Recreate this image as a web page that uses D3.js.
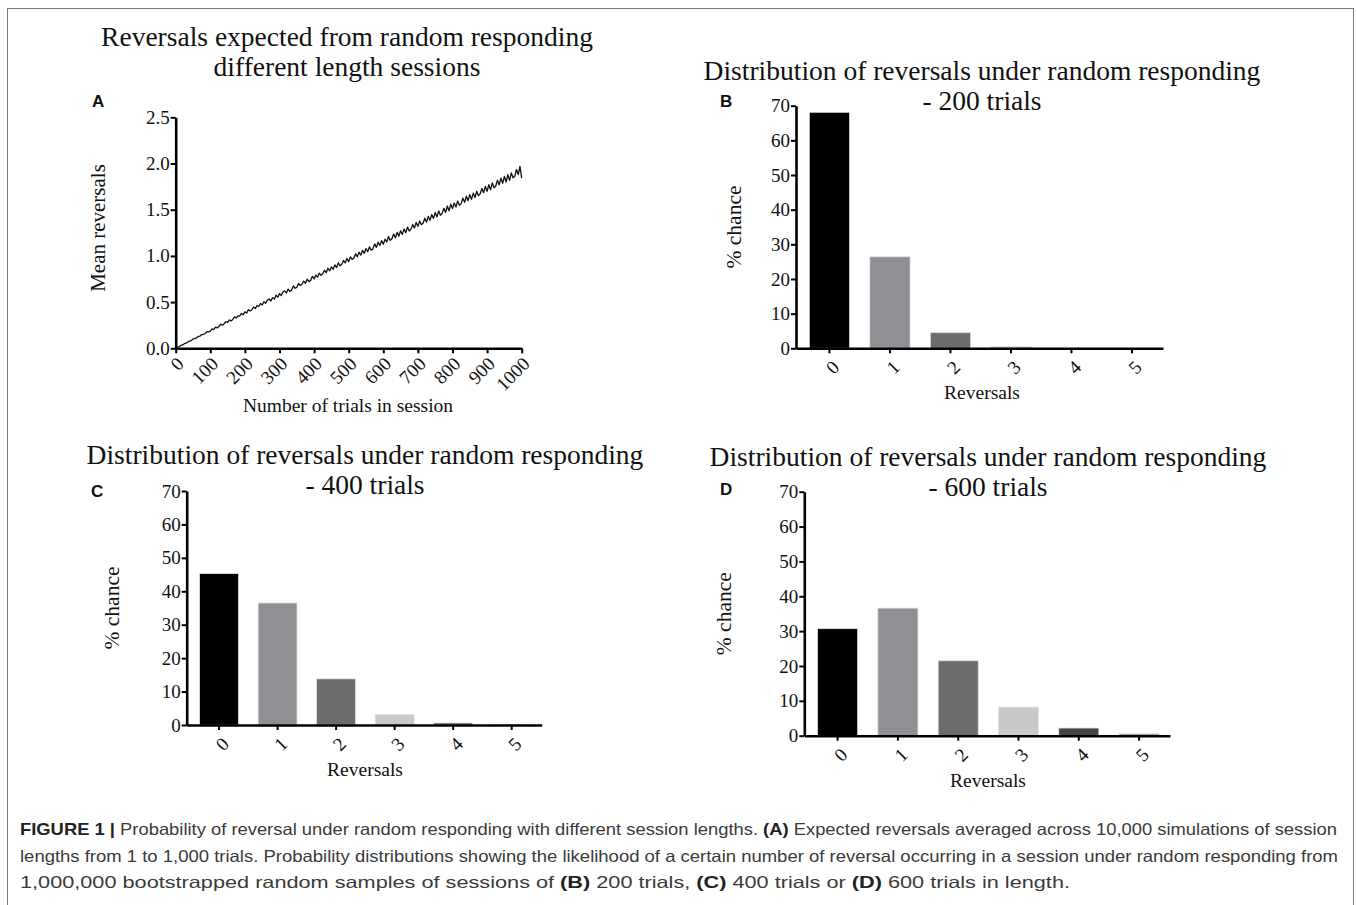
<!DOCTYPE html>
<html>
<head>
<meta charset="utf-8">
<script src="https://cdn.jsdelivr.net/npm/d3@7"></script>
<style>
  body { margin: 0; background: #fff; }
  svg { display: block; }
  .serif { font-family: "Liberation Serif", "DejaVu Serif", serif; fill: #111; }
</style>
</head>
<body>
<script>
// panel A: trials per session and mean reversals
var trials = [
    0, 5, 10, 15, 20, 25, 30, 35, 40, 45,
    50, 55, 60, 65, 70, 75, 80, 85, 90, 95,
    100, 105, 110, 115, 120, 125, 130, 135, 140, 145,
    150, 155, 160, 165, 170, 175, 180, 185, 190, 195,
    200, 205, 210, 215, 220, 225, 230, 235, 240, 245,
    250, 255, 260, 265, 270, 275, 280, 285, 290, 295,
    300, 305, 310, 315, 320, 325, 330, 335, 340, 345,
    350, 355, 360, 365, 370, 375, 380, 385, 390, 395,
    400, 405, 410, 415, 420, 425, 430, 435, 440, 445,
    450, 455, 460, 465, 470, 475, 480, 485, 490, 495,
    500, 505, 510, 515, 520, 525, 530, 535, 540, 545,
    550, 555, 560, 565, 570, 575, 580, 585, 590, 595,
    600, 605, 610, 615, 620, 625, 630, 635, 640, 645,
    650, 655, 660, 665, 670, 675, 680, 685, 690, 695,
    700, 705, 710, 715, 720, 725, 730, 735, 740, 745,
    750, 755, 760, 765, 770, 775, 780, 785, 790, 795,
    800, 805, 810, 815, 820, 825, 830, 835, 840, 845,
    850, 855, 860, 865, 870, 875, 880, 885, 890, 895,
    900, 905, 910, 915, 920, 925, 930, 935, 940, 945,
    950, 955, 960, 965, 970, 975, 980, 985, 990, 995,
    1000
];
var meanReversals = [
    0.000, 0.011, 0.017, 0.031, 0.036, 0.050, 0.055, 0.069, 0.078, 0.083,
    0.101, 0.104, 0.112, 0.129, 0.131, 0.149, 0.150, 0.160, 0.179, 0.178,
    0.186, 0.210, 0.203, 0.229, 0.221, 0.236, 0.262, 0.250, 0.266, 0.289,
    0.279, 0.308, 0.296, 0.312, 0.340, 0.327, 0.352, 0.349, 0.377, 0.362,
    0.395, 0.381, 0.418, 0.404, 0.418, 0.447, 0.430, 0.463, 0.452, 0.485,
    0.468, 0.505, 0.488, 0.521, 0.534, 0.512, 0.549, 0.532, 0.575, 0.553,
    0.592, 0.571, 0.610, 0.622, 0.598, 0.641, 0.615, 0.632, 0.675, 0.650,
    0.660, 0.701, 0.680, 0.693, 0.728, 0.704, 0.748, 0.721, 0.735, 0.780,
    0.751, 0.792, 0.770, 0.814, 0.790, 0.806, 0.845, 0.818, 0.866, 0.838,
    0.880, 0.856, 0.902, 0.875, 0.924, 0.893, 0.910, 0.950, 0.925, 0.972,
    0.938, 0.990, 0.962, 0.978, 1.022, 0.990, 1.040, 1.008, 1.060, 1.028,
    1.080, 1.045, 1.098, 1.062, 1.075, 1.130, 1.092, 1.148, 1.112, 1.165,
    1.126, 1.182, 1.150, 1.210, 1.168, 1.186, 1.236, 1.196, 1.255, 1.214,
    1.272, 1.232, 1.292, 1.250, 1.312, 1.270, 1.290, 1.340, 1.300, 1.362,
    1.320, 1.378, 1.338, 1.356, 1.408, 1.365, 1.428, 1.384, 1.448, 1.406,
    1.470, 1.422, 1.488, 1.440, 1.460, 1.515, 1.470, 1.540, 1.488, 1.560,
    1.512, 1.572, 1.528, 1.594, 1.548, 1.566, 1.625, 1.580, 1.646, 1.598,
    1.664, 1.612, 1.680, 1.632, 1.700, 1.652, 1.672, 1.730, 1.684, 1.752,
    1.700, 1.770, 1.716, 1.790, 1.738, 1.756, 1.820, 1.768, 1.842, 1.786,
    1.860, 1.800, 1.880, 1.818, 1.898, 1.846, 1.862, 1.935, 1.880, 1.968,
    1.842
];
var trialTicks = [0, 100, 200, 300, 400, 500, 600, 700, 800, 900, 1000];
var meanTicks = [0, 0.5, 1.0, 1.5, 2.0, 2.5];

// panels B-D: % chance of each number of reversals
var reversals = ["0", "1", "2", "3", "4", "5"];
var chance200 = [68.1, 26.4, 4.5, 0.5, 0.05, 0.0];
var chance400 = [45.3, 36.5, 13.8, 3.2, 0.6, 0.1];
var chance600 = [30.7, 36.6, 21.5, 8.2, 2.2, 0.6];
var chanceTicks = [0, 10, 20, 30, 40, 50, 60, 70];

var barColors = ["#000000", "#8f8f94", "#6c6c6c", "#c9c9c9", "#454545", "#a3a3a3"];

var width = 1357;
var height = 905;

var svg = d3.select("body").append("svg")
    .attr("width", width)
    .attr("height", height);

// figure frame
svg.append("rect")
    .attr("x", 7.5).attr("y", 8.5)
    .attr("width", 1346).attr("height", 910)
    .style("fill", "none")
    .style("stroke", "#7a7a7a")
    .style("stroke-width", 1);

function styleAxis(g) {
    g.select(".domain").style("stroke", "#000").style("stroke-width", 2.6);
    g.selectAll(".tick line").style("stroke", "#000").style("stroke-width", 2);
    g.selectAll(".tick text")
        .style("font-family", '"Liberation Serif", serif')
        .style("font-size", "19px")
        .style("fill", "#111");
}

function panelLetter(letter, x, y) {
    svg.append("text")
        .attr("x", x).attr("y", y)
        .text(letter)
        .style("font-family", '"Liberation Sans", Arial, sans-serif')
        .style("font-weight", "bold")
        .style("font-size", "17px")
        .style("fill", "#111");
}

function title(lines, cx, y0) {
    lines.forEach(function (line, i) {
        svg.append("text")
            .attr("class", "serif")
            .attr("x", cx).attr("y", y0 + i * 30)
            .attr("text-anchor", "middle")
            .style("font-size", "27.5px")
            .text(line);
    });
}

function axisTitle(label, x, y, rotate, size) {
    svg.append("text")
        .attr("class", "serif")
        .attr("transform", "translate(" + x + "," + y + ")" + (rotate ? " rotate(-90)" : ""))
        .attr("text-anchor", "middle")
        .style("font-size", size + "px")
        .text(label);
}

// ---------- panel A ----------
var ax = d3.scaleLinear().domain([0, 1000]).range([175.7, 521.7]);
var ay = d3.scaleLinear().domain([0, 2.5]).range([348.3, 117.3]);

var line = d3.line()
    .x(function (d, i) { return ax(trials[i]); })
    .y(function (d) { return ay(d); });

svg.append("path")
    .datum(meanReversals)
    .attr("d", line)
    .style("fill", "none")
    .style("stroke", "#111")
    .style("stroke-width", 1.3)
    .style("stroke-linejoin", "round");

var gAy = svg.append("g")
    .attr("transform", "translate(" + ax(0) + ",0)")
    .call(d3.axisLeft(ay).tickValues(meanTicks).tickFormat(d3.format(".1f"))
        .tickSize(5).tickSizeOuter(0).tickPadding(1));
styleAxis(gAy);

var gAx = svg.append("g")
    .attr("transform", "translate(0," + ay(0) + ")")
    .call(d3.axisBottom(ax).tickValues(trialTicks).tickFormat(d3.format("d"))
        .tickSize(5).tickSizeOuter(0));
styleAxis(gAx);
gAx.selectAll(".tick text")
    .attr("x", 0).attr("y", 0).attr("dy", "0.35em")
    .attr("transform", "translate(4,12) rotate(-45)")
    .style("text-anchor", "end");

panelLetter("A", 92, 107);
title(["Reversals expected from random responding", "different length sessions"], 347, 46);
axisTitle("Mean reversals", 105, 228, true, 21);
axisTitle("Number of trials in session", 348, 412, false, 19.5);

// ---------- bar panels ----------
function barPanel(values, x0, x1, yBase, yTop, opts) {
    var x = d3.scaleBand().domain(reversals).range([x0, x1])
        .paddingInner(0.335).paddingOuter(0.2).align(0.55);
    var y = d3.scaleLinear().domain([0, 70]).range([yBase, yTop]);

    svg.append("g").selectAll("rect")
        .data(values)
        .enter().append("rect")
        .attr("x", function (d, i) { return x(reversals[i]); })
        .attr("y", function (d) { return y(d); })
        .attr("width", x.bandwidth())
        .attr("height", function (d) { return yBase - y(d); })
        .style("fill", function (d, i) { return barColors[i]; })
        .style("stroke", "#e2e2e2")
        .style("stroke-width", 0.8);

    var gy = svg.append("g")
        .attr("transform", "translate(" + x0 + ",0)")
        .call(d3.axisLeft(y).tickValues(chanceTicks).tickSize(5).tickSizeOuter(0).tickPadding(1));
    styleAxis(gy);

    var gx = svg.append("g")
        .attr("transform", "translate(0," + yBase + ")")
        .call(d3.axisBottom(x).tickSize(5).tickSizeOuter(0));
    styleAxis(gx);
    gx.selectAll(".tick text")
        .attr("x", 0).attr("y", 0).attr("dy", "0.35em")
        .attr("transform", "translate(3,19) rotate(-45)")
        .style("text-anchor", "middle");

    panelLetter(opts.letter, opts.lx, opts.ly);
    title(["Distribution of reversals under random responding", opts.sub], opts.cx, opts.ty);
    axisTitle("% chance", opts.yl, (yBase + yTop) / 2, true, 21.5);
    axisTitle("Reversals", opts.cx, yBase + 51, false, 19.5);
}

barPanel(chance200, 796, 1163, 348.3, 105.7,
    { letter: "B", lx: 720, ly: 107, sub: "- 200 trials", cx: 982, ty: 80, yl: 741 });
barPanel(chance400, 186.7, 541.7, 725, 491,
    { letter: "C", lx: 91, ly: 497, sub: "- 400 trials", cx: 365, ty: 464, yl: 119 });
barPanel(chance600, 804.3, 1170, 735.7, 491.7,
    { letter: "D", lx: 720, ly: 495, sub: "- 600 trials", cx: 988, ty: 466, yl: 731 });

// ---------- caption ----------
var caption = [
    [["FIGURE 1 | ", true], ["Probability of reversal under random responding with different session lengths. ", false],
     ["(A)", true], [" Expected reversals averaged across 10,000 simulations of session", false]],
    [["lengths from 1 to 1,000 trials. Probability distributions showing the likelihood of a certain number of reversal occurring in a session under random responding from", false]],
    [["1,000,000 bootstrapped random samples of sessions of ", false], ["(B)", true], [" 200 trials, ", false],
     ["(C)", true], [" 400 trials or ", false], ["(D)", true], [" 600 trials in length.", false]]
];
var captionWidths = [1317, 1318, 1050];

caption.forEach(function (parts, i) {
    var t = svg.append("text")
        .attr("x", 20).attr("y", 835 + i * 26.5)
        .attr("textLength", captionWidths[i])
        .attr("lengthAdjust", "spacingAndGlyphs")
        .style("font-family", '"Liberation Sans", Arial, sans-serif')
        .style("font-size", "16.5px")
        .style("fill", "#3a3a3a");
    parts.forEach(function (p) {
        t.append("tspan")
            .text(p[0])
            .style("font-weight", p[1] ? "bold" : "normal")
            .style("fill", p[1] ? "#222" : "#3a3a3a");
    });
});
</script>
</body>
</html>
